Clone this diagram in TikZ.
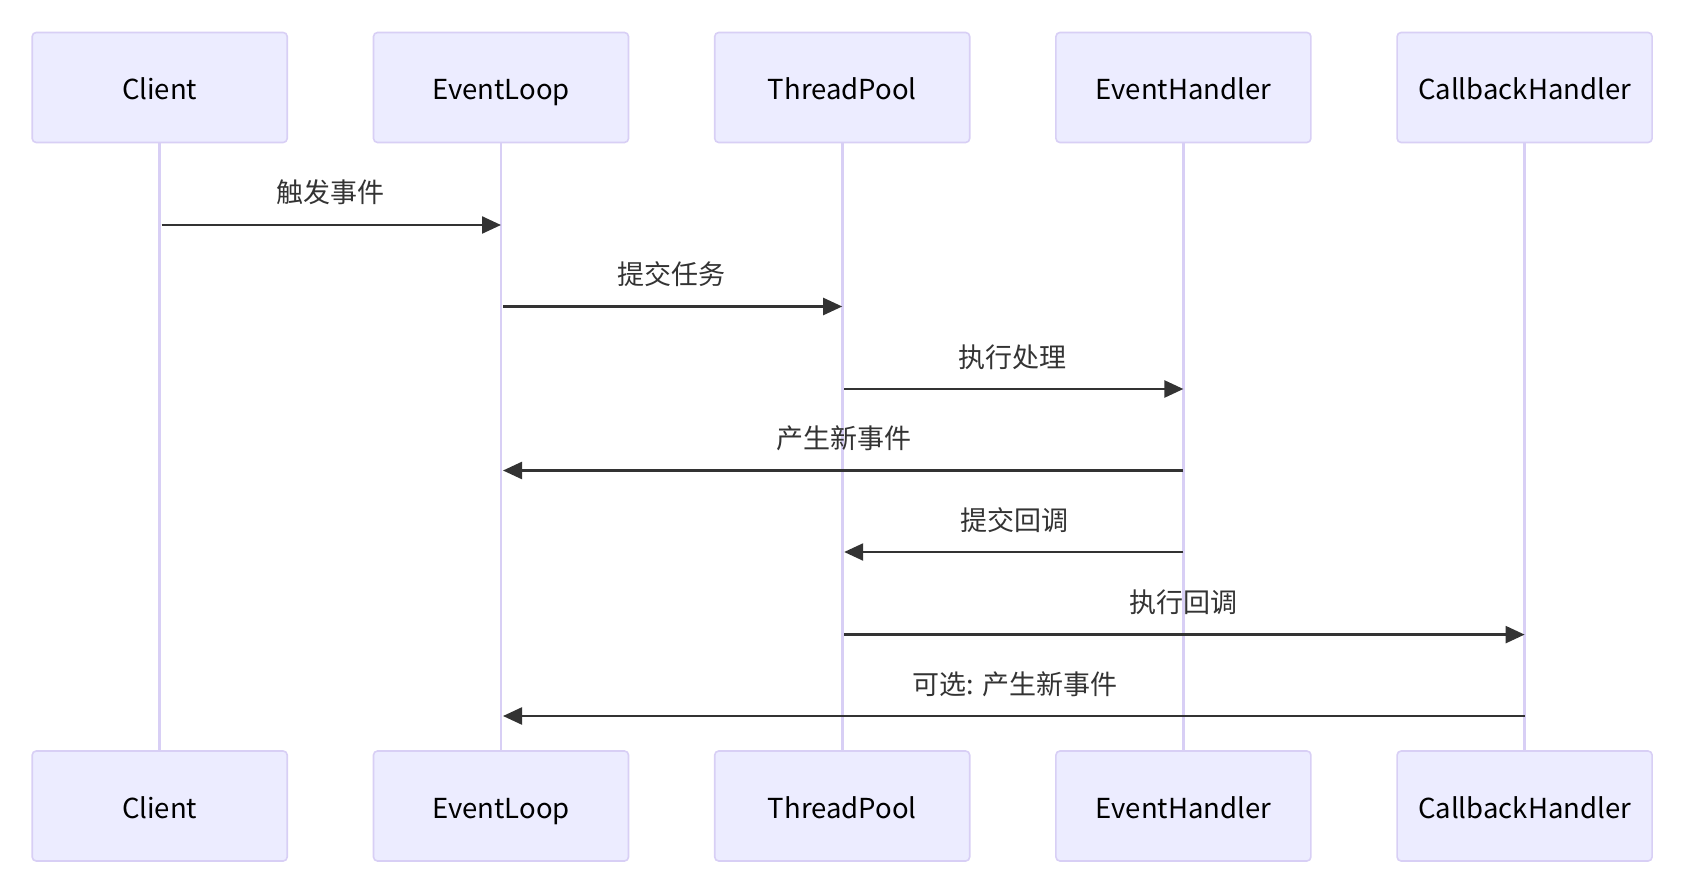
\documentclass[tikz,border=0pt]{standalone}
\usepackage{fontspec}
\setmainfont{Noto Sans CJK SC}
\usetikzlibrary{arrows.meta}

\definecolor{actorfill}{HTML}{ECECFF}
\definecolor{actorline}{HTML}{D8CFF5}
\definecolor{msgcolor}{HTML}{333333}

\tikzset{
    actor/.style={draw=actorline, fill=actorfill, line width=1.6pt, rounded corners=4pt,
        minimum width=255pt, minimum height=110pt, inner sep=0pt,
        text height=28pt, text depth=4pt,
        font=\fontsize{27.5}{32}\selectfont},
    lifeline/.style={draw=actorline, line width=2.6pt},
    msg/.style={draw=msgcolor, line width=2.4pt, -{Triangle[length=19pt,width=17pt]}},
    msgtext/.style={text=msgcolor, font=\fontsize{27}{30}\selectfont, anchor=base}
}

\begin{document}
\begin{tikzpicture}[x=1pt,y=1pt]
    \useasboundingbox (0,0) rectangle (1704,-890);
    % participants, top row
    \node[actor] (client)  at (159.7,-87.5)  {Client};
    \node[actor] (loop)    at (501,-87.5)    {EventLoop};
    \node[actor] (pool)    at (842.2,-87.5)  {ThreadPool};
    \node[actor] (handler) at (1183.4,-87.5) {EventHandler};
    \node[actor] (cb)      at (1524.6,-87.5) {CallbackHandler};
    % participants, bottom row
    \node[actor] (client-b)  at (159.7,-806)  {Client};
    \node[actor] (loop-b)    at (501,-806)    {EventLoop};
    \node[actor] (pool-b)    at (842.2,-806)  {ThreadPool};
    \node[actor] (handler-b) at (1183.4,-806) {EventHandler};
    \node[actor] (cb-b)      at (1524.6,-806) {CallbackHandler};
    % lifelines
    \foreach \p in {client,loop,pool,handler,cb}
        \draw[lifeline] (\p.south) -- (\p-b.north);
    % messages
    \draw[msg] ([xshift=2pt]client.south |- 0,-225) -- (loop.south |- 0,-225);
    \node[msgtext] (m1) at (330.3,-203) {触发事件};
    \draw[msg] ([xshift=2pt]loop.south |- 0,-306.5) -- (pool.south |- 0,-306.5);
    \node[msgtext] (m2) at (671.6,-284.5) {提交任务};
    \draw[msg] ([xshift=2pt]pool.south |- 0,-389) -- (handler.south |- 0,-389);
    \node[msgtext] (m3) at (1012.8,-367) {执行处理};
    \draw[msg] (handler.south |- 0,-470.5) -- ([xshift=2pt]loop.south |- 0,-470.5);
    \node[msgtext] (m4) at (844,-448.5) {产生新事件};
    \draw[msg] (handler.south |- 0,-552) -- ([xshift=2pt]pool.south |- 0,-552);
    \node[msgtext] (m5) at (1014.8,-530) {提交回调};
    \draw[msg] ([xshift=2pt]pool.south |- 0,-634.6) -- (cb.south |- 0,-634.6);
    \node[msgtext] (m6) at (1183.4,-612.6) {执行回调};
    \draw[msg] (cb.south |- 0,-716) -- ([xshift=2pt]loop.south |- 0,-716);
    \node[msgtext] (m7) at (1014.8,-694) {可选: 产生新事件};
\end{tikzpicture}
\end{document}
